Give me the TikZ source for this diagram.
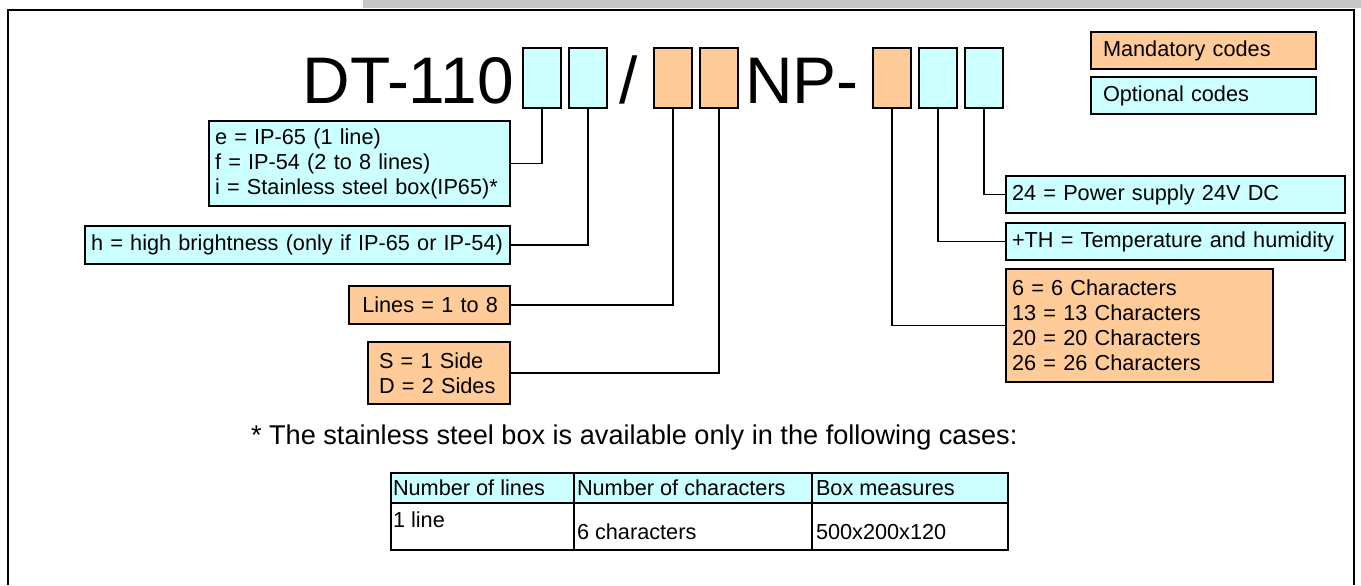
\documentclass[tikz,border=0pt]{standalone}
\usepackage{fontspec}
\setmainfont{Liberation Sans}

\definecolor{optcol}{HTML}{CCFFFF}
\definecolor{mancol}{HTML}{FFCC99}
\definecolor{barcol}{HTML}{C8C8C8}

\newcommand{\boxfont}{\fontsize{12.35}{14.23}\selectfont}
\newcommand{\titlefont}{\fontsize{37.5}{42}\selectfont}
\newcommand{\notefont}{\fontsize{15.45}{18}\selectfont}

\begin{document}
\begin{tikzpicture}[x=0.02cm, y=-0.02cm,
	every node/.style={inner sep=0pt, outer sep=0pt},
	every path/.style={line width=1.1pt},
	code/.style={draw=black, minimum width=0.76cm, minimum height=1.2cm, anchor=north west},
	infobox/.style={draw=black, anchor=north west, align=left, font=\boxfont, inner xsep=0.12cm, minimum height=0.74cm},
	cell/.style={draw=black, line width=1.6pt, anchor=north west},
	celltext/.style={anchor=west, font=\boxfont}]
				\useasboundingbox (0,0) rectangle (1361,585);
				\fill[barcol] (363,0) rectangle (1361,8);
				\draw[line width=1.2pt] (8,585) -- (8,10) -- (1354,10) -- (1354,585);
				
				\node[font=\titlefont, anchor=base east] (dt) at (514,103){DT-110};
				\node[font=\titlefont, anchor=base west] (slash) at (619,103){/};
				\node[font=\titlefont, anchor=base west] (np) at (745,103){NP-};
				
				\node[code, fill=optcol] (c1) at (523,48){};
				\node[code, fill=optcol] (c2) at (569,48){};
				\node[code, fill=mancol] (c3) at (654,48){};
				\node[code, fill=mancol] (c4) at (700,48){};
				\node[code, fill=mancol] (c5) at (873,48){};
				\node[code, fill=optcol] (c6) at (919,48){};
				\node[code, fill=optcol] (c7) at (965,48){};
				
				\node[infobox, fill=mancol, inner xsep=0.24cm, text width=4.02cm] (mand) at (1091,32){Mandatory codes};
				\node[infobox, fill=optcol, inner xsep=0.24cm, text width=4.02cm] (opt) at (1091,77){Optional codes};
				
				\node[infobox, fill=optcol, text width=5.78cm, minimum height=1.7cm] (prot) at (209,121){e = IP-65 (1 line)\\f = IP-54 (2 to 8 lines)\\i = Stainless steel box(IP65)*};
				\node[infobox, fill=optcol, text width=8.26cm, minimum height=0.76cm] (bright) at (85,226){h = high brightness (only if IP-65 or IP-54)};
				\node[infobox, fill=mancol, align=right, inner xsep=0.24cm, text width=2.74cm, minimum height=0.76cm] (lines) at (349,286){Lines = 1 to 8};
				\node[infobox, fill=mancol, inner xsep=0.22cm, text width=2.4cm, minimum height=1.24cm] (sides) at (368,342){S = 1 Side\\D = 2 Sides};
				
				\node[infobox, fill=optcol, text width=6.54cm] (power) at (1006,176){24 = Power supply 24V DC};
				\node[infobox, fill=optcol, text width=6.54cm] (temp) at (1006,223){+TH = Temperature and humidity};
				\node[infobox, fill=mancol, text width=5.1cm, minimum height=2.26cm] (chars) at (1006,269){6 = 6 Characters\\13 = 13 Characters\\20 = 20 Characters\\26 = 26 Characters};
				
				\draw (prot.east) -| (c1.south);
				\draw (bright.east) -| (c2.south);
				\draw (lines.east) -| (c3.south);
				\draw (sides.east) -| (c4.south);
				\draw (chars.west) -| (c5.south);
				\draw (temp.west) -| (c6.south);
				\draw (power.west) -| (c7.south);
				
				\node[font=\notefont, anchor=west] (note) at (251,437){* The stainless steel box is available only in the following cases:};
				
				\node[cell, fill=optcol, minimum width=3.66cm, minimum height=0.6cm] (h1) at (391,473){};
				\node[cell, fill=optcol, minimum width=4.76cm, minimum height=0.6cm] (h2) at (574,473){};
				\node[cell, fill=optcol, minimum width=3.92cm, minimum height=0.6cm] (h3) at (812,473){};
				\node[cell, fill=white, minimum width=3.66cm, minimum height=0.94cm] (b1) at (391,503){};
				\node[cell, fill=white, minimum width=4.76cm, minimum height=0.94cm] (b2) at (574,503){};
				\node[cell, fill=white, minimum width=3.92cm, minimum height=0.94cm] (b3) at (812,503){};
				
				\node[celltext] (t1) at ([xshift=0.04cm]h1.west){Number of lines};
				\node[celltext] (t2) at ([xshift=0.06cm]h2.west){Number of characters};
				\node[celltext] (t3) at ([xshift=0.08cm]h3.west){Box measures};
				\node[celltext] (t4) at ([xshift=0.04cm, yshift=0.13cm]b1.west){1 line};
				\node[celltext] (t5) at ([xshift=0.06cm, yshift=-0.11cm]b2.west){6 characters};
				\node[celltext] (t6) at ([xshift=0.08cm, yshift=-0.11cm]b3.west){500x200x120};
				\end{tikzpicture}
\end{document}
